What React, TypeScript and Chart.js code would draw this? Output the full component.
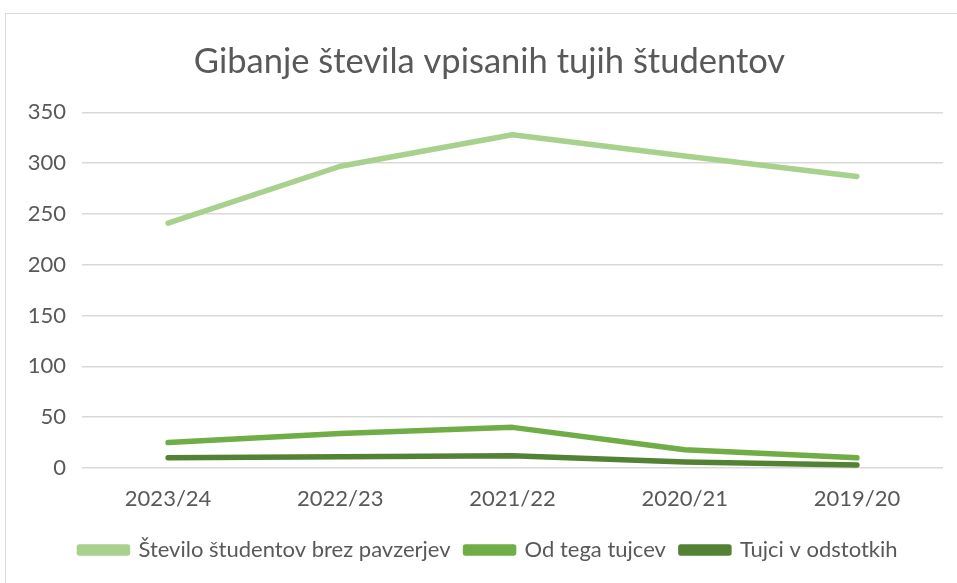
import React, { useEffect, useRef } from "react";
import { Chart, registerables } from "chart.js";

Chart.register(...registerables);

const categories = ["2023/24", "2022/23", "2021/22", "2020/21", "2019/20"];
const studentsTotal = [241, 297, 328, 307, 287];
const foreignCount = [25, 34, 40, 18, 10];
const foreignPercent = [10, 11, 12, 6, 3];
const yTicks = [0, 50, 100, 150, 200, 250, 300, 350];

const FONT = "Lato, 'Open Sans', sans-serif";

const shiftBlocks = {
  id: "shiftBlocks",
  afterLayout(chart: any) {
    if (chart.titleBlock) {
      chart.titleBlock.left += 36;
    }
    if (chart.legend) {
      chart.legend.left += 34;
    }
  },
};

export default function App() {
  const ref = useRef<HTMLCanvasElement | null>(null);
  useEffect(() => {
    if (!ref.current) return;
    const chart = new Chart(ref.current, {
      type: "line",
      data: {
        labels: categories,
        datasets: [
          { label: "Število študentov brez pavzerjev", data: studentsTotal, borderColor: "#a9d18e", backgroundColor: "#a9d18e" },
          { label: "Od tega tujcev", data: foreignCount, borderColor: "#70ad47", backgroundColor: "#70ad47" },
          { label: "Tujci v odstotkih", data: foreignPercent, borderColor: "#548235", backgroundColor: "#548235" },
        ],
      },
      plugins: [shiftBlocks],
      options: {
        animation: false,
        responsive: false,
        maintainAspectRatio: false,
        elements: {
          line: { borderWidth: 5.5, borderCapStyle: "round", borderJoinStyle: "round", tension: 0 },
          point: { radius: 0, hoverRadius: 0 },
        },
        layout: { padding: { left: 0, right: 14, top: 0, bottom: 12 } },
        plugins: {
          title: {
            display: true,
            text: "Gibanje števila vpisanih tujih študentov",
            color: "#595959",
            font: { family: FONT, size: 34.5, weight: "normal", lineHeight: 1.2 },
            padding: { top: 41, bottom: 30 },
          },
          legend: {
            position: "bottom",
            labels: {
              color: "#595959",
              font: { family: FONT, size: 22 },
              boxWidth: 48,
              boxHeight: 6,
              padding: 15,
            },
          },
          tooltip: { enabled: false },
        },
        scales: {
          x: {
            offset: true,
            grid: { display: false, drawTicks: false },
            border: { display: false },
            ticks: { color: "#595959", font: { family: FONT, size: 22 }, padding: 18 },
            afterFit: (axis: any) => {
              axis.height = 56;
            },
          },
          y: {
            min: 0,
            max: 350,
            afterBuildTicks: (axis: any) => {
              axis.ticks = yTicks.map((v) => ({ value: v }));
            },
            afterFit: (axis: any) => {
              axis.width = 82;
            },
            grid: { color: "#d9d9d9", lineWidth: 1.5, drawTicks: false },
            border: { display: false },
            ticks: { color: "#595959", font: { family: FONT, size: 22 }, padding: 16 },
          },
        },
      },
    });
    return () => chart.destroy();
  }, []);
  return (
    <div style={{ position: "absolute", left: 0, top: 0, width: 957, height: 583, overflow: "hidden", background: "#fff" }}>
      <div
        style={{
          position: "absolute",
          left: 5,
          top: 13,
          width: 970,
          height: 590,
          border: "1.5px solid #d9d9d9",
        }}
      />
      <canvas ref={ref} width={957} height={583} style={{ display: "block", position: "absolute", left: 0, top: 0 }} />
    </div>
  );
}
